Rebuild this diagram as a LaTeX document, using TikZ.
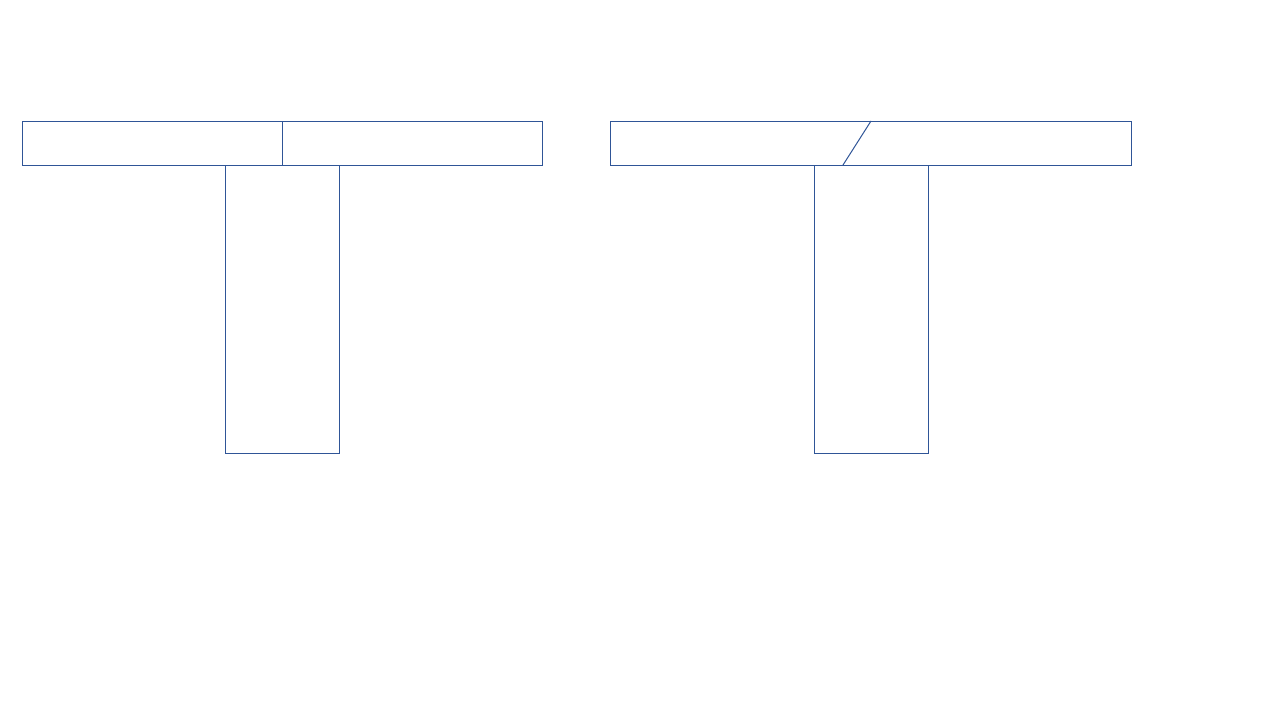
\documentclass[tikz,border=0pt]{standalone}
\definecolor{lineblue}{HTML}{2F5597}
\begin{document}
\begin{tikzpicture}[x=1pt,y=-1pt,
  part/.style={draw=lineblue,line width=1pt},
  seam/.style={draw=lineblue,line width=1pt}]
\useasboundingbox (0,0) rectangle (1280,720);
% left T
\draw[part] (22,121) rectangle (542,165);
\coordinate (lsTop) at (282,121);
\coordinate (lsBot) at (282,165);
\draw[seam] (lsTop) -- (lsBot);
\draw[part] (225,165) rectangle (339,453);
% right T
\draw[part] (610,121) rectangle (1131,165);
\coordinate (rsTop) at (871,121);
\coordinate (rsBot) at (843,165);
\draw[seam] (rsTop) -- (rsBot);
\draw[part] (814,165) rectangle (928,453);
\end{tikzpicture}
\end{document}
